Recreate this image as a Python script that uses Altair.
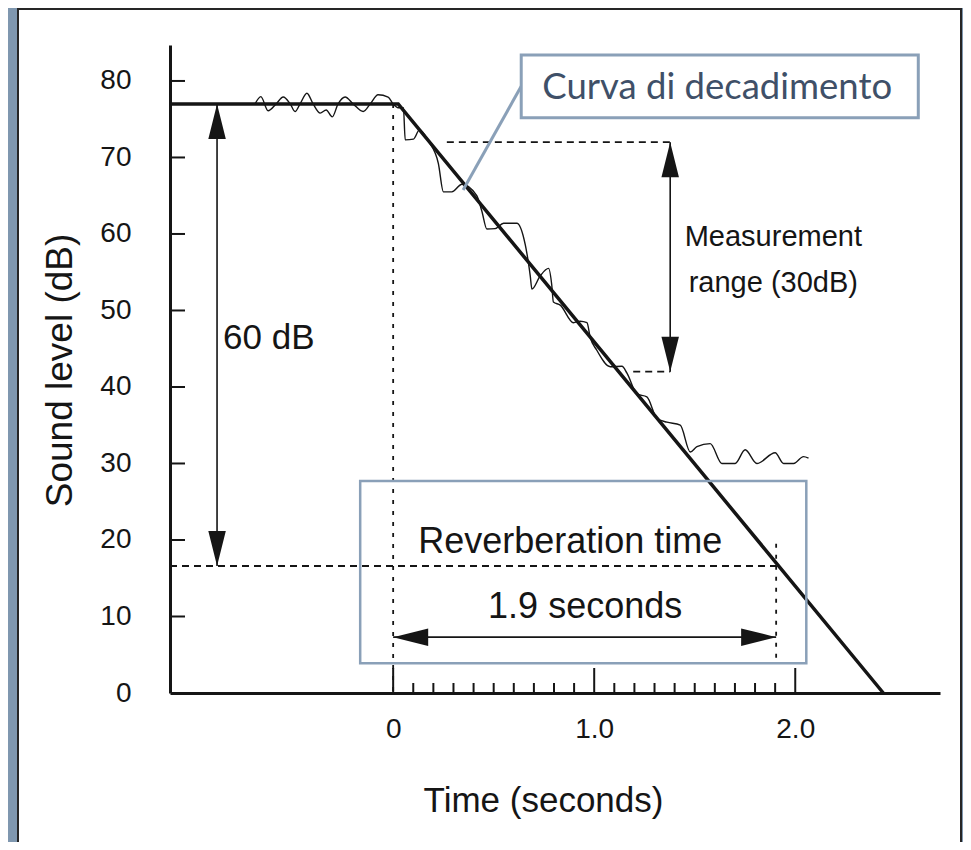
import altair as alt
import pandas as pd

# ---------------- data ----------------
x_domain = [-1.11, 2.72]
y_domain = [0, 84.7]

y_label_values = [0, 10, 20, 30, 40, 50, 60, 70, 80]
y_tick_values = [10, 20, 30, 40, 50, 60, 70, 80]
x_label_values = [0, 1, 2]
x_major_ticks = [0.0, 1.0, 2.0]
x_minor_ticks = [0.1, 0.2, 0.3, 0.4, 0.5, 0.6, 0.7, 0.8, 0.9,
                 1.1, 1.2, 1.3, 1.4, 1.5, 1.6, 1.7, 1.8, 1.9]

# idealised decay (thick straight line)
decay_t = [-1.11, 0.025, 2.438]
decay_db = [77, 77, 0]

# measured (noisy) decay curve
curve_t = [-0.687, -0.658, -0.622, -0.582, -0.547, -0.512, -0.488, -0.463, -0.429, -0.398,
           -0.363, -0.333, -0.303, -0.274, -0.239, -0.199, -0.149, -0.114, -0.075, -0.025,
           0.0, 0.025,
           0.051, 0.060, 0.101, 0.131, 0.176, 0.225, 0.250, 0.292, 0.342, 0.416,
           0.441, 0.466, 0.507, 0.549, 0.615, 0.657, 0.665, 0.682, 0.690, 0.731,
           0.773, 0.789, 0.797, 0.831, 0.897, 0.930, 0.964, 0.980, 1.013, 1.080,
           1.138, 1.163, 1.212, 1.262, 1.312, 1.362, 1.428, 1.478, 1.511, 1.577,
           1.635, 1.701, 1.751, 1.809, 1.900, 1.942, 1.992, 2.041, 2.066]
curve_db = [77.0, 77.95, 76.1, 77.0, 77.9, 77.0, 76.0, 77.0, 78.4, 77.0,
            75.8, 76.2, 75.3, 77.0, 77.9, 77.0, 76.0, 77.0, 78.2, 77.9,
            77.0, 76.5,
            76.5, 72.3, 72.4, 73.6, 72.1, 69.2, 65.5, 65.5, 66.5, 65.0,
            63.0, 60.65, 60.7, 61.4, 61.4, 58.6, 57.5, 54.5, 52.8, 54.5,
            55.5, 53.3, 51.1, 50.7, 48.4, 48.6, 48.4, 46.5, 44.8, 42.65,
            42.7, 41.8, 39.1, 38.7, 35.9, 35.4, 35.0, 31.5, 32.2, 32.6,
            30.0, 30.0, 31.8, 30.0, 31.4, 30.0, 30.0, 30.9, 30.7]

# dashed horizontal guides
dash_t = [-1.11, 0.267, 1.194]
dash_t2 = [1.905, 1.378, 1.378]
dash_db = [16.6, 72, 42]

# dotted vertical guides
dot_t = [0.0, 1.905]
dot_db = [77, 19.5]
dot_db2 = [0, 4.5]

# double arrows
varrow_t = [-0.876, 1.378]
varrow_top = [77, 72]
varrow_bot = [16.6, 42]
harrow_db = [7.3]
harrow_t0 = [0.0]
harrow_t1 = [1.905]

# annotation texts
big_text = ["60 dB", "1.9 seconds"]
big_text_t = [-0.846, 0.955]
big_text_db = [46.4, 11.2]
big_text_align = ["left", "center"]
reverb_text = ["Reverberation time"]
reverb_text_t = [0.881]
reverb_text_db = [19.7]
meas_text = ["Measurement", "range (30dB)"]
meas_text_t = [1.891, 1.891]
meas_text_db = [59.6, 53.6]

# call-out boxes
reverb_box_t = [-0.164]
reverb_box_t2 = [2.055]
reverb_box_db = [3.9]
reverb_box_db2 = [27.7]
curva_box_t = [0.637]
curva_box_t2 = [2.612]
curva_box_db = [75.2]
curva_box_db2 = [83.4]
curva_label = ["Curva di decadimento"]
curva_label_t = [1.612]
curva_label_db = [79.1]
connector_t = [0.637]
connector_t2 = [0.348]
connector_db = [79.3]
connector_db2 = [65.75]

# ---------------- styling ----------------
W, H = 770, 648
INK = "#151515"
FRAME = "#8aa0b8"
BG = "#7f97af"
FONT = "Liberation Sans"
NARROW = "Liberation Sans Narrow, Liberation Sans"

xs = alt.Scale(domain=x_domain, nice=False, zero=False)
ys = alt.Scale(domain=y_domain, nice=False, zero=False)


def X(field):
    return alt.X(field, type="quantitative", scale=xs)


def Y(field):
    return alt.Y(field, type="quantitative", scale=ys)


panel = alt.Chart(pd.DataFrame({"k": [0]})).mark_rect(
    fill="white", stroke="#262626", strokeWidth=2
).encode(x=alt.value(-152), x2=alt.value(791), y=alt.value(-36), y2=alt.value(810))

# axes carrier (invisible points)
axis_df = pd.DataFrame({"t": [x_domain[0], x_domain[1]], "db": [y_domain[0], y_domain[1]]})
axes = alt.Chart(axis_df).mark_point(opacity=0).encode(
    x=alt.X("t:Q", scale=xs, axis=alt.Axis(
        values=x_label_values, ticks=False, grid=False, domainWidth=3, domainColor=INK,
        labelExpr="datum.value == 0 ? '0' : format(datum.value, '.1f')",
        labelFont=NARROW, labelFontSize=28, labelColor=INK, labelPadding=22,
        labelFlush=False, labelOverlap=False,
        title="Time (seconds)", titleFont=FONT, titleFontSize=35, titleFontWeight="normal",
        titleColor=INK, titleX=373, titleY=107, titleAlign="center", titleBaseline="middle",
        zindex=1)),
    y=alt.Y("db:Q", scale=ys, axis=alt.Axis(
        values=y_label_values, ticks=False, grid=False, domainWidth=3, domainColor=INK,
        labelFont=NARROW, labelFontSize=28, labelColor=INK, labelPadding=39,
        labelFlush=False, labelOverlap=False,
        title="Sound level (dB)", titleFont=FONT, titleFontSize=37, titleFontWeight="normal",
        titleColor=INK, titleX=-110, titleY=325, titleAngle=270, titleAlign="center",
        titleBaseline="middle", zindex=1)),
)

ytick = alt.Chart(pd.DataFrame({"db": y_tick_values})).mark_rule(
    color=INK, strokeWidth=2).encode(y=Y("db"), x=alt.value(0), x2=alt.value(15))
xmajor = alt.Chart(pd.DataFrame({"t": x_major_ticks})).mark_rule(
    color=INK, strokeWidth=2).encode(x=X("t"), y=alt.value(H), y2=alt.value(H - 25))
xminor = alt.Chart(pd.DataFrame({"t": x_minor_ticks})).mark_rule(
    color=INK, strokeWidth=2).encode(x=X("t"), y=alt.value(H), y2=alt.value(H - 10))

dashed = alt.Chart(pd.DataFrame({"t": dash_t, "t2": dash_t2, "db": dash_db})).mark_rule(
    color=INK, strokeWidth=1.8, strokeDash=[7, 5]).encode(x=X("t"), x2="t2", y=Y("db"))
dotted = alt.Chart(pd.DataFrame({"t": dot_t, "db": dot_db, "db2": dot_db2})).mark_rule(
    color=INK, strokeWidth=1.8, strokeDash=[4, 7]).encode(x=X("t"), y=Y("db"), y2="db2")

vshaft = alt.Chart(pd.DataFrame({"t": varrow_t, "a": varrow_top, "b": varrow_bot})).mark_rule(
    color=INK, strokeWidth=1.6).encode(x=X("t"), y=Y("a"), y2="b")
hshaft = alt.Chart(pd.DataFrame({"t": harrow_t0, "t2": harrow_t1, "db": harrow_db})).mark_rule(
    color=INK, strokeWidth=1.6).encode(x=X("t"), x2="t2", y=Y("db"))

UP = "M0,0 L0.5,2 L-0.5,2 Z"
DOWN = "M0,0 L0.5,-2 L-0.5,-2 Z"
LEFT = "M0,0 L2,0.5 L2,-0.5 Z"
RIGHT = "M0,0 L-2,0.5 L-2,-0.5 Z"
heads_df = pd.DataFrame({
    "t": varrow_t + varrow_t + harrow_t0 + harrow_t1,
    "db": varrow_top + varrow_bot + harrow_db + harrow_db,
    "shape": [UP] * len(varrow_t) + [DOWN] * len(varrow_t) + [LEFT, RIGHT],
})
heads = alt.Chart(heads_df).mark_point(filled=True, color=INK, opacity=1, size=1225,
                                       strokeWidth=0).encode(
    x=X("t"), y=Y("db"), shape=alt.Shape("shape:N", scale=None, legend=None))

decay = alt.Chart(pd.DataFrame({"t": decay_t, "db": decay_db})).mark_line(
    color=INK, strokeWidth=3.5).encode(x=X("t"), y=Y("db"))
curve = alt.Chart(pd.DataFrame({"t": curve_t, "db": curve_db})).mark_line(
    color=INK, strokeWidth=1.4, interpolate="monotone").encode(x=X("t"), y=Y("db"))

big_df = pd.DataFrame({"t": big_text_t, "db": big_text_db, "txt": big_text, "al": big_text_align})
big_left = alt.Chart(big_df[big_df.al == "left"]).mark_text(
    font=FONT, fontSize=35, align="left", baseline="middle", color=INK).encode(
    x=X("t"), y=Y("db"), text="txt:N")
big_center = alt.Chart(big_df[big_df.al == "center"]).mark_text(
    font=FONT, fontSize=36, align="center", baseline="middle", color=INK).encode(
    x=X("t"), y=Y("db"), text="txt:N")
reverb_label = alt.Chart(pd.DataFrame({"t": reverb_text_t, "db": reverb_text_db, "txt": reverb_text})).mark_text(
    font=FONT, fontSize=36, align="center", baseline="middle", color=INK).encode(
    x=X("t"), y=Y("db"), text="txt:N")
meas_label = alt.Chart(pd.DataFrame({"t": meas_text_t, "db": meas_text_db, "txt": meas_text})).mark_text(
    font=FONT, fontSize=29, align="center", baseline="middle", color=INK).encode(
    x=X("t"), y=Y("db"), text="txt:N")

reverb_box = alt.Chart(pd.DataFrame({"t": reverb_box_t, "t2": reverb_box_t2,
                                     "db": reverb_box_db, "db2": reverb_box_db2})).mark_rect(
    fillOpacity=0, stroke=FRAME, strokeWidth=2.5).encode(x=X("t"), x2="t2", y=Y("db"), y2="db2")
connector = alt.Chart(pd.DataFrame({"t": connector_t, "t2": connector_t2,
                                    "db": connector_db, "db2": connector_db2})).mark_rule(
    color=FRAME, strokeWidth=3).encode(x=X("t"), x2="t2", y=Y("db"), y2="db2")
curva_box = alt.Chart(pd.DataFrame({"t": curva_box_t, "t2": curva_box_t2,
                                    "db": curva_box_db, "db2": curva_box_db2})).mark_rect(
    fill="white", stroke=FRAME, strokeWidth=3).encode(x=X("t"), x2="t2", y=Y("db"), y2="db2")
curva_text = alt.Chart(pd.DataFrame({"t": curva_label_t, "db": curva_label_db, "txt": curva_label})).mark_text(
    font="Lato", fontSize=36.5, align="center", baseline="middle", color="#3f5068").encode(
    x=X("t"), y=Y("db"), text="txt:N")

chart = alt.layer(
    panel, axes, ytick, xmajor, xminor, dashed, dotted, vshaft, hshaft, heads,
    curve, decay, big_left, big_center, reverb_label, meas_label,
    reverb_box, connector, curva_box, curva_text,
).properties(
    width=W, height=H,
    autosize=alt.AutoSizeParams(type="none"),
    padding={"left": 162, "top": 37, "right": 23, "bottom": 149},
).configure(background=BG).configure_view(stroke=None)

chart.save("out.html", embed_options={"renderer": "svg", "actions": False})
